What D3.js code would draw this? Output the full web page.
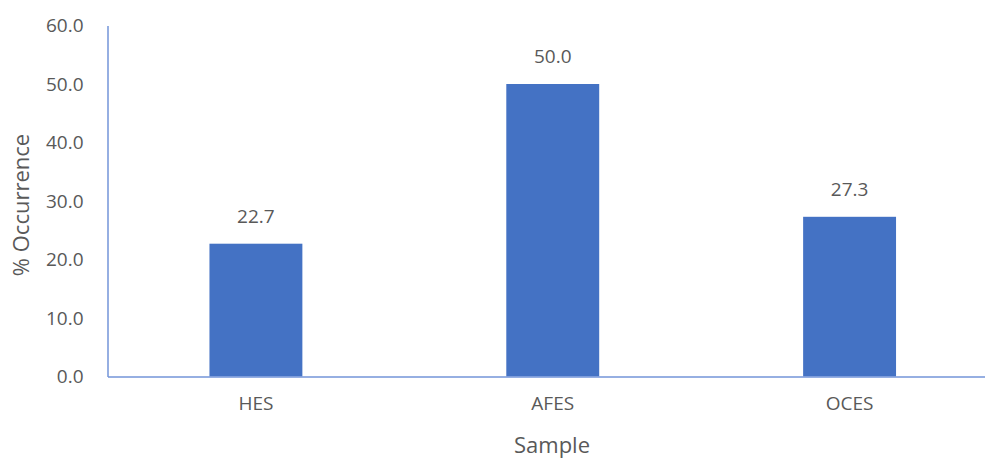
<!DOCTYPE html>
<html>
<head>
<meta charset="utf-8">
<script src="https://cdn.jsdelivr.net/npm/d3@7"></script>
<style>
  html, body { margin: 0; padding: 0; background: #ffffff; }
  svg { display: block; }
  text { font-family: "Open Sans", "Noto Sans", sans-serif; fill: #595959; }
</style>
</head>
<body>
<svg id="chart" width="985" height="458"></svg>
<script>
// Occurrence (%) by sample type
const categories = ["HES", "AFES", "OCES"];
const values = [22.7, 50.0, 27.3];
const yTicks = [0, 10, 20, 30, 40, 50, 60];

const svg = d3.select("#chart");
const margin = { left: 107.5, right: -13, top: 25.5, bottom: 81.5 };
const W = 985, H = 458;
const labelSize = "19px";
const titleSize = "22px";

const x = d3.scaleBand()
  .domain(categories)
  .range([margin.left, W - margin.right])
  .paddingInner(0.687)
  .paddingOuter(0.3435);

const y = d3.scaleLinear()
  .domain([0, 60])
  .range([H - margin.bottom, margin.top]);

const axisColor = "#7394d8";
const barColor = "#4472C4";

// bars
svg.append("g").selectAll("rect")
  .data(values)
  .join("rect")
  .attr("x", (d, i) => x(categories[i]))
  .attr("y", d => y(d))
  .attr("width", x.bandwidth())
  .attr("height", d => y(0) - y(d))
  .attr("fill", barColor);

// value labels
svg.append("g").selectAll("text")
  .data(values)
  .join("text")
  .attr("x", (d, i) => x(categories[i]) + x.bandwidth() / 2)
  .attr("y", d => y(d) - 27.5)
  .attr("dy", "0.35em")
  .attr("text-anchor", "middle")
  .style("font-size", labelSize)
  .text(d => d.toFixed(1));

// y axis
const yAxis = svg.append("g")
  .attr("transform", `translate(${margin.left},0)`)
  .call(d3.axisLeft(y).tickValues(yTicks).tickFormat(d3.format(".1f")).tickSize(0).tickPadding(24));
yAxis.select(".domain").attr("stroke", axisColor).attr("stroke-width", 1.5);
yAxis.selectAll("text").style("font-size", labelSize).attr("fill", "#595959");

// x axis
const xAxis = svg.append("g")
  .attr("transform", `translate(0,${y(0)})`)
  .call(d3.axisBottom(x).tickSize(0).tickPadding(20));
xAxis.select(".domain").attr("stroke", axisColor).attr("stroke-width", 1.5);
xAxis.selectAll("text").style("font-size", labelSize).attr("fill", "#595959");

// axis titles
svg.append("text")
  .attr("transform", `translate(21,205) rotate(-90)`)
  .attr("text-anchor", "middle")
  .attr("dy", "0.35em")
  .style("font-size", titleSize)
  .text("% Occurrence");

svg.append("text")
  .attr("x", 552)
  .attr("y", 445)
  .attr("dy", "0.35em")
  .attr("text-anchor", "middle")
  .style("font-size", titleSize)
  .text("Sample");
</script>
</body>
</html>
